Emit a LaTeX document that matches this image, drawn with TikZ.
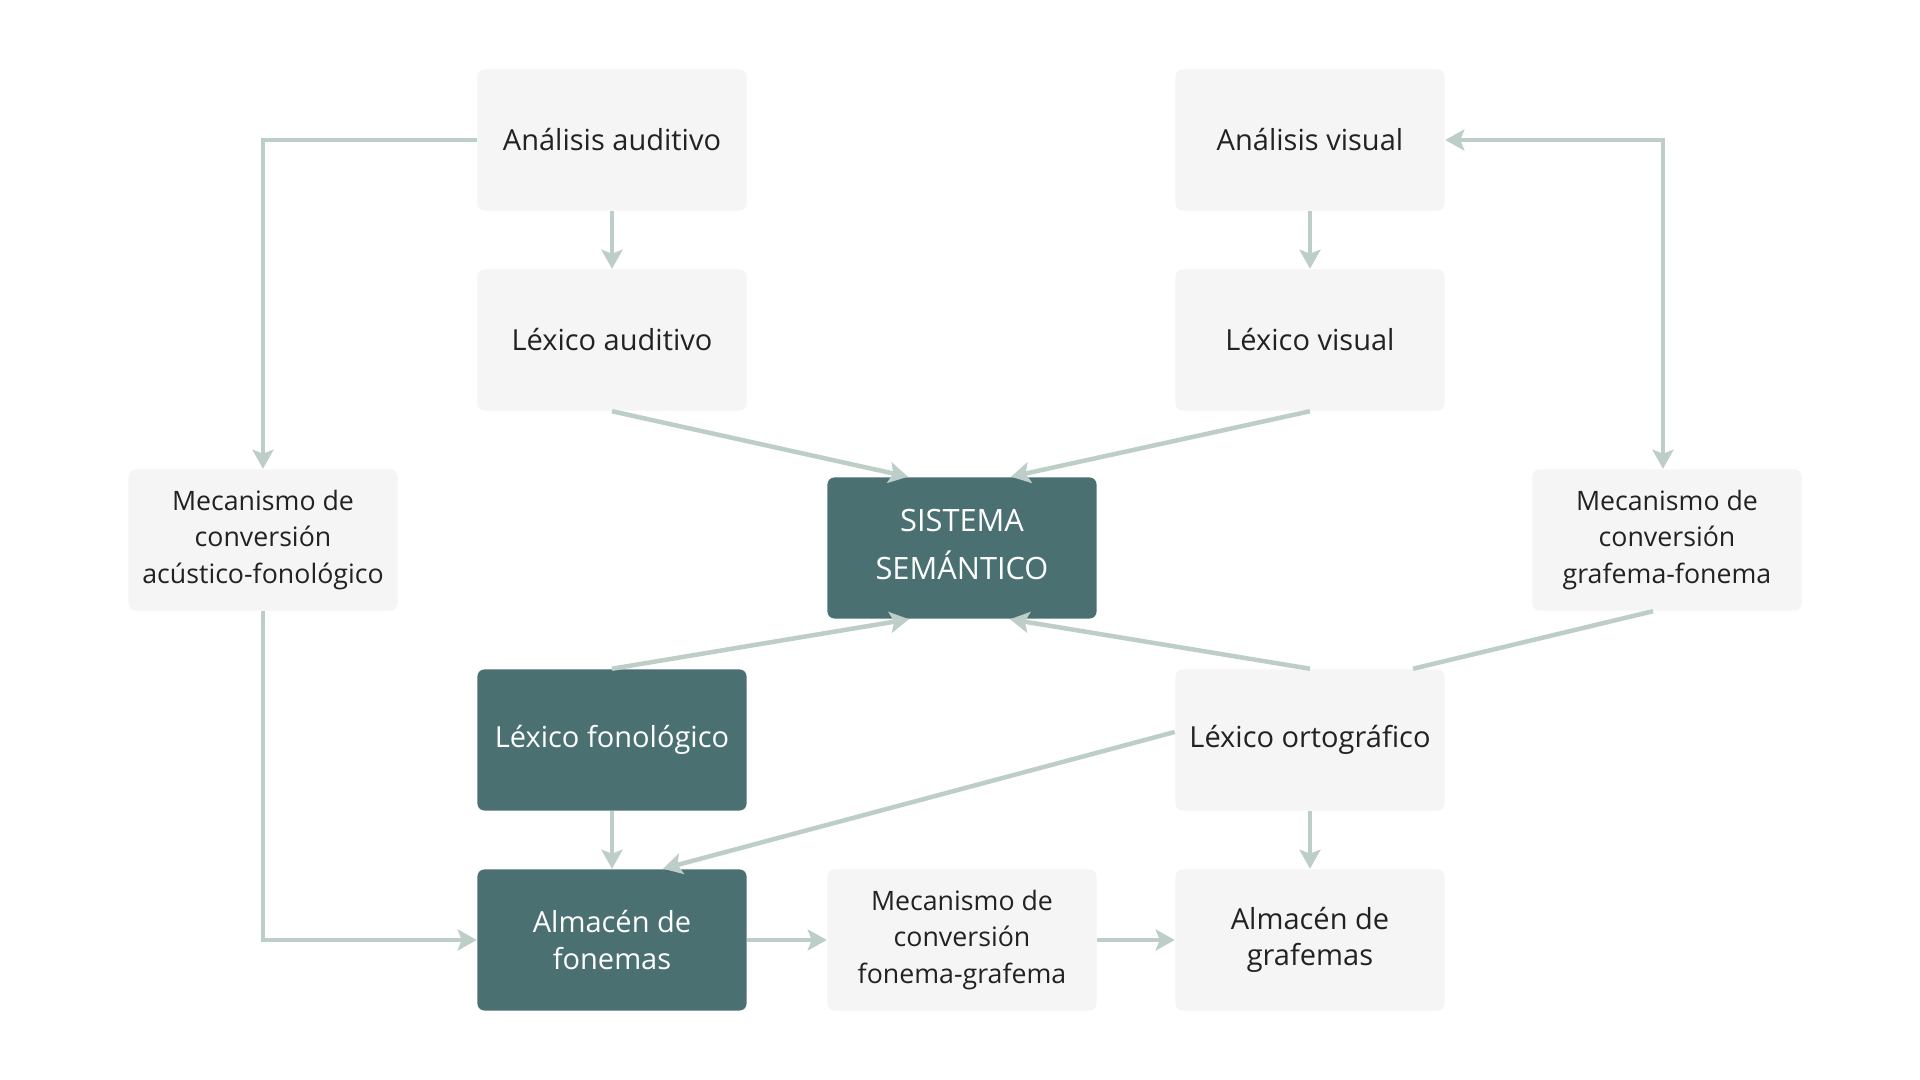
\documentclass[tikz,border=0pt]{standalone}
\usepackage{fontspec}
\setmainfont{Open Sans}
\usetikzlibrary{arrows.meta}
\definecolor{boxlight}{HTML}{F5F5F5}
\definecolor{boxdark}{HTML}{4A7071}
\definecolor{edgecol}{HTML}{BDCEC8}
\definecolor{txt}{HTML}{222222}
\begin{document}
\begin{tikzpicture}[x=0.01cm,y=-0.01cm,
  >={Stealth[length=0.19cm,width=0.21cm,inset=0.04cm]},
  lbox/.style={fill=boxlight, rounded corners=0.07cm, minimum width=2.69cm, minimum height=1.41cm,
    align=center, text=txt, font=\fontsize{8.25}{10.3}\selectfont, inner sep=0pt},
  smalltxt/.style={font=\fontsize{7.6}{10.3}\selectfont},
  dbox/.style={lbox, fill=boxdark, text=white},
  conn/.style={draw=edgecol, line width=0.045cm, ->},
  plainconn/.style={draw=edgecol, line width=0.045cm},
  bothconn/.style={draw=edgecol, line width=0.045cm, <->}
  ]
\useasboundingbox (0,0) rectangle (1920,1080);
\fill[white] (0,0) rectangle (1920,1080);

% nodes
\node[lbox] (aa) at (612,140) {Análisis auditivo};
\node[lbox] (la) at (612,340) {Léxico auditivo};
\node[lbox] (av) at (1310,140) {Análisis visual};
\node[lbox] (lv) at (1310,340) {Léxico visual};
\node[lbox, smalltxt] (mac) at (263,540) {Mecanismo de\\conversión\\acústico-fonológico};
\node[dbox, font=\fontsize{8.75}{13.6}\selectfont] (ss) at (962,548)
  {\raisebox{0.7pt}[\height][\depth]{\begin{tabular}{@{}c@{}}SISTEMA\\SEMÁNTICO\end{tabular}}};
\node[lbox, smalltxt] (mgf) at (1667,540) {Mecanismo de\\conversión\\grafema-fonema};
\node[dbox] (lf) at (612,740) {Léxico fonológico};
\node[lbox] (lo) at (1310,740) {Léxico ortográfico};
\node[dbox] (af) at (612,940) {Almacén de\\fonemas};
\node[lbox, smalltxt] (mfg) at (962,940) {Mecanismo de\\conversión\\fonema-grafema};
\node[lbox] (ag) at (1310,940) {Almacén de\\grafemas};

% connectors
\draw[conn] (aa.west) -| (mac.north);
\draw[conn] (aa.south) -- (la.north);
\draw[conn] (av.south) -- (lv.north);
\draw[bothconn] (av.east) -| ([xshift=-0.04cm]mgf.north);
\draw[conn] (la.south) -- ([xshift=-0.54cm]ss.north);
\draw[conn] (lv.south) -- ([xshift=0.49cm]ss.north);
\draw[conn] (lf.north) -- ([xshift=-0.53cm]ss.south);
\draw[conn] (lo.north) -- ([xshift=0.48cm]ss.south);
\draw[plainconn] ([xshift=-0.14cm]mgf.south) -- ([xshift=1.03cm]lo.north);
\draw[conn] (mac.south) |- (af.west);
\draw[conn] (lf.south) -- (af.north);
\draw[conn] ([yshift=0.08cm]lo.west) -- ([xshift=0.51cm]af.north);
\draw[conn] (lo.south) -- (ag.north);
\draw[conn] (af.east) -- (mfg.west);
\draw[conn] (mfg.east) -- (ag.west);
\end{tikzpicture}
\end{document}
